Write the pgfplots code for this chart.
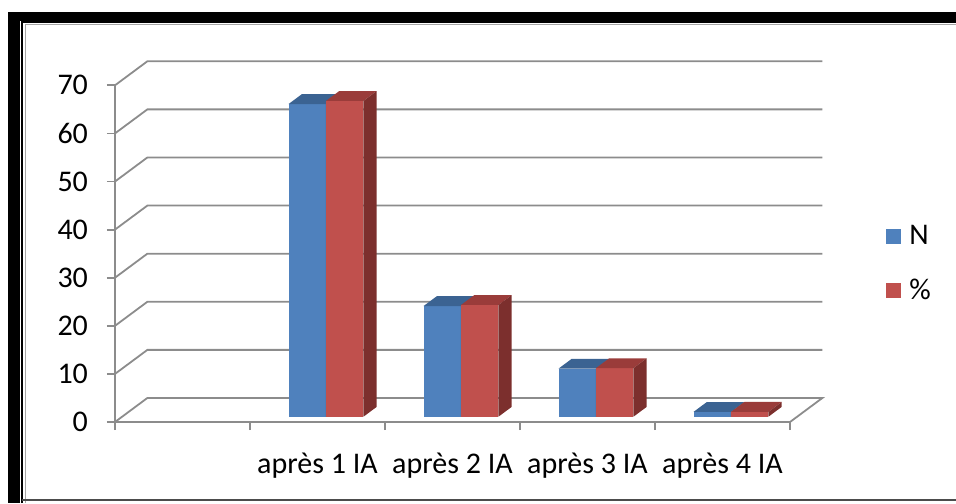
\documentclass[border=0pt]{standalone}
\usepackage{pgfplots}
\pgfplotsset{compat=1.18}
\usepackage{fontspec}
\setmainfont{Carlito}
\definecolor{nF}{HTML}{4F81BD}
\definecolor{nT}{HTML}{3B6392}
\definecolor{nS}{HTML}{385D8A}
\definecolor{pF}{HTML}{C0504D}
\definecolor{pT}{HTML}{9A3C3A}
\definecolor{pS}{HTML}{7C2F2D}
\definecolor{gridc}{HTML}{8C8C8C}

% 3D bar: #1 left (front, category units), #2 width, #3 value, #4 front, #5 top, #6 side
\newcommand\threedbar[6]{%
  \pgfmathsetmacro\xa{#1+0.0528}%
  \pgfmathsetmacro\xb{\xa+#2}%
  \pgfmathsetmacro\xc{\xa+0.0984}%
  \pgfmathsetmacro\xd{\xb+0.0984}%
  \pgfmathsetmacro\ya{1.1}%
  \pgfmathsetmacro\yb{1.1+#3}%
  \pgfmathsetmacro\yc{3.15}%
  \pgfmathsetmacro\yd{3.15+#3}%
  \addplot[fill=#4,draw=none,forget plot] coordinates {(\xa,\ya) (\xb,\ya) (\xb,\yb) (\xa,\yb)};
  \addplot[fill=#5,draw=none,forget plot] coordinates {(\xa,\yb) (\xb,\yb) (\xd,\yd) (\xc,\yd)};
  \addplot[fill=#6,draw=none,forget plot] coordinates {(\xb,\ya) (\xd,\yc) (\xd,\yd) (\xb,\yb)};
}

\begin{document}
\begin{tikzpicture}
\begin{axis}[
  name=ax,
  x=67.5pt, y=2.405pt,
  xmin=0, xmax=5, ymin=0, ymax=70,
  clip=false,
  axis x line*=bottom, axis y line*=left,
  axis line style={-, draw=gridc, line width=0.9pt},
  xtick={0,...,5},
  xticklabels={,après 1 IA,après 2 IA,après 3 IA,après 4 IA},
  x tick label as interval,
  ytick={0,10,...,70},
  tick align=outside,
  major tick length=4pt,
  tick style={draw=gridc, line width=0.9pt},
  /pgf/number format/assume math mode=true,
  tick label style={font=\fontsize{15}{17}\selectfont},
  yticklabel style={xshift=-6pt},
  xticklabel style={yshift=-8pt},
  legend image code/.code={\fill[#1,draw=none] (0pt,-3.75pt) rectangle (7.5pt,3.75pt);},
  legend style={at={(1.142,0.47)}, anchor=west, draw=none, fill=none,
    font=\fontsize{15}{17}\selectfont, row sep=12pt, column sep=2pt, inner sep=0pt},
  legend cell align=left,
]
% back walls / gridlines
\addplot[gridc, line width=0.9pt, forget plot] coordinates {(0,0) (0.24,5) (5.24,5) (5,0)};
\addplot[gridc, line width=0.9pt, forget plot] coordinates {(0,10) (0.24,15) (5.24,15)};
\addplot[gridc, line width=0.9pt, forget plot] coordinates {(0,20) (0.24,25) (5.24,25)};
\addplot[gridc, line width=0.9pt, forget plot] coordinates {(0,30) (0.24,35) (5.24,35)};
\addplot[gridc, line width=0.9pt, forget plot] coordinates {(0,40) (0.24,45) (5.24,45)};
\addplot[gridc, line width=0.9pt, forget plot] coordinates {(0,50) (0.24,55) (5.24,55)};
\addplot[gridc, line width=0.9pt, forget plot] coordinates {(0,60) (0.24,65) (5.24,65)};
\addplot[gridc, line width=0.9pt, forget plot] coordinates {(0,70) (0.24,75) (5.24,75)};

% bars: N and %
\threedbar{1.2325}{0.2775}{65}{nF}{nT}{nS}
\threedbar{1.51}{0.2775}{65.66}{pF}{pT}{pS}
\threedbar{2.2325}{0.2775}{23}{nF}{nT}{nS}
\threedbar{2.51}{0.2775}{23.23}{pF}{pT}{pS}
\threedbar{3.2325}{0.2775}{10}{nF}{nT}{nS}
\threedbar{3.51}{0.2775}{10.10}{pF}{pT}{pS}
\threedbar{4.2325}{0.2775}{1}{nF}{nT}{nS}
\threedbar{4.51}{0.2775}{1.01}{pF}{pT}{pS}

\addlegendimage{fill=nF}
\addlegendentry{N}
\addlegendimage{fill=pF}
\addlegendentry{\%}
\end{axis}
% frame, in reference pixels relative to the axis origin (px 115, 422)
\begin{scope}[shift={(ax.origin)}, x=0.5pt, y=0.5pt]
\fill[black] (-107,410) rectangle (841,401);
\fill[black] (-107,410) rectangle (-95,-81);
\draw[black,line width=0.7pt] (-93,-81) -- (-93,400) -- (841,400);
\draw[gray!70,line width=0.8pt] (-89.5,-81) -- (-89.5,397.5) -- (841,397.5);
\draw[black!70,line width=1pt] (-93,-77.5) -- (841,-77.5);
\pgfresetboundingbox
\path[use as bounding box] (-115,-81) rectangle (841,422);
\end{scope}
\end{tikzpicture}
\end{document}
